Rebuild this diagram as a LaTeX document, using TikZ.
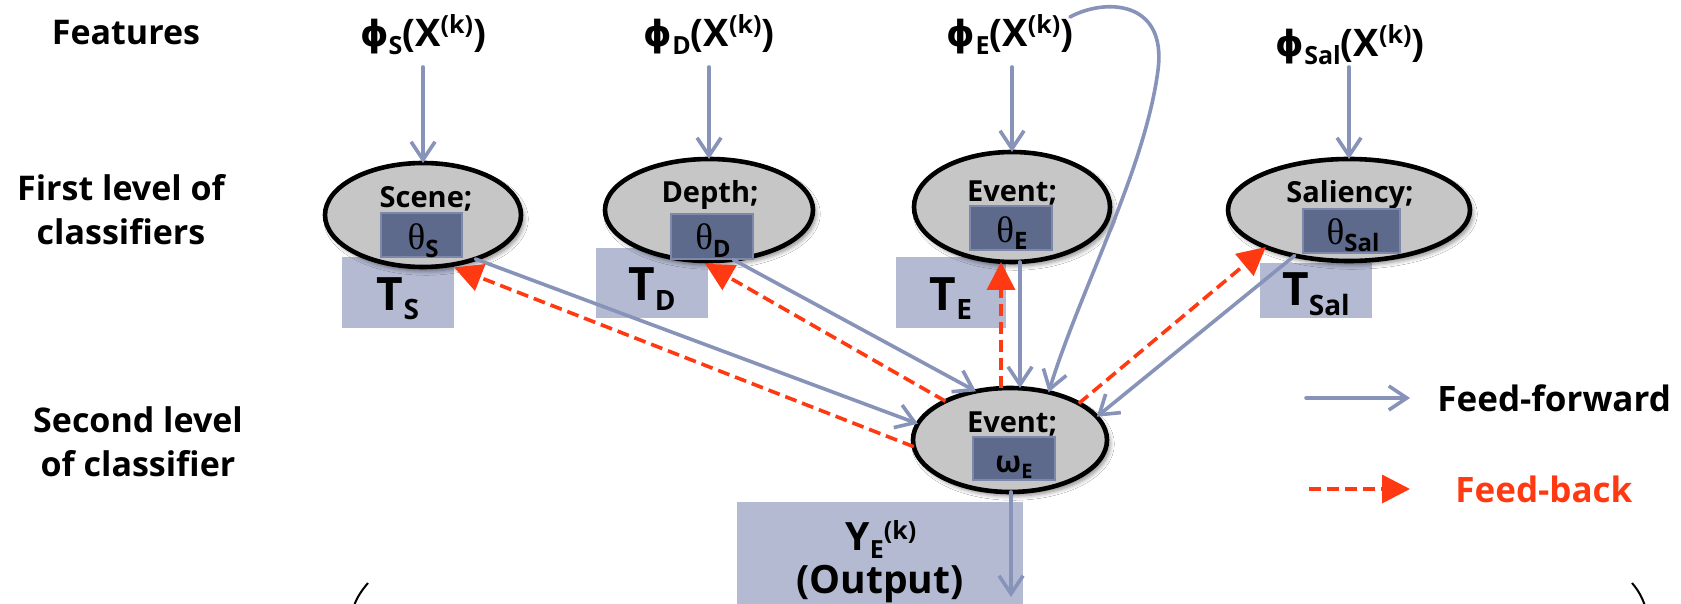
\documentclass[tikz,border=0pt]{standalone}
\usepackage{fontspec}
\setmainfont{Open Sans}
\newfontfamily\phifont{DejaVu Sans}
\newfontfamily\thfont{Liberation Serif}
\usetikzlibrary{arrows.meta,shapes.geometric,shadows.blur}
\definecolor{ffblue}{HTML}{8793B8}
\definecolor{fbred}{HTML}{FF3A12}
\definecolor{ellgray}{HTML}{C6C6C6}
\definecolor{tblue}{HTML}{B4BAD2}
\definecolor{thblue}{HTML}{5E6A8C}
\definecolor{thborder}{HTML}{7D88AA}
\newcommand\sbs[3]{\raisebox{#2}{\fontsize{#1}{#1}\selectfont #3}}
\newcommand\phisym{{\phifont\fontsize{18pt}{18pt}\selectfont ϕ}}
\begin{document}
\begin{tikzpicture}[x=0.5pt,y=-0.5pt,
  ell/.style={ellipse, draw=black, line width=2.3pt, fill=ellgray, inner sep=0pt, outer sep=0pt,
    blur shadow={shadow xshift=1.5pt, shadow yshift=-2pt, shadow opacity=45, shadow blur steps=6}},
  tbox/.style={rectangle, fill=tblue, inner sep=0pt, outer sep=0pt},
  thbox/.style={rectangle, fill=thblue, draw=thborder, line width=1pt, inner sep=0pt, outer sep=0pt},
  lbl/.style={font=\bfseries\fontsize{17pt}{22pt}\selectfont, align=center, inner sep=0pt},
  etxt/.style={font=\bfseries\fontsize{14.5pt}{14.5pt}\selectfont, inner sep=0pt, anchor=base},
  phitxt/.style={font=\bfseries\fontsize{19pt}{19pt}\selectfont, inner sep=0pt, anchor=base},
  thtxt/.style={font=\bfseries\fontsize{18.5pt}{18.5pt}\selectfont, inner sep=0pt, anchor=base},
  ttxt/.style={font=\bfseries\fontsize{23pt}{23pt}\selectfont, inner sep=0pt, anchor=base},
  otxt/.style={font=\bfseries\fontsize{19.5pt}{19.5pt}\selectfont, inner sep=0pt, anchor=base},
  legtxt/.style={font=\bfseries\fontsize{17.5pt}{17.5pt}\selectfont, inner sep=0pt, anchor=west},
  ff/.style={draw=ffblue, line width=1.8pt, line cap=round, -{Straight Barb[length=9pt,width=12pt]}},
  fb/.style={draw=fbred, line width=1.8pt, dash pattern=on 6pt off 3pt, -{Triangle[length=14pt,width=14pt]}}
]
\useasboundingbox (0,0) rectangle (1681,604);
\fill[white] (0,0) rectangle (1681,604);

% row labels
\node[lbl] (features) at (126,33) {Features};
\node[lbl] (first) at (121,210) {First level of\\classifiers};
\node[lbl] (second) at (138,442) {Second level\\of classifier};

% feature labels
\node[phitxt] (phiS) at (423,47) {\phisym\sbs{12.5pt}{-4pt}{S}(X\sbs{12.5pt}{6.5pt}{(k)})};
\node[phitxt] (phiD) at (709,47) {\phisym\sbs{12.5pt}{-4pt}{D}(X\sbs{12.5pt}{6.5pt}{(k)})};
\node[phitxt] (phiE) at (1010,47) {\phisym\sbs{12.5pt}{-4pt}{E}(X\sbs{12.5pt}{6.5pt}{(k)})};
\node[phitxt] (phiSal) at (1350,57) {\phisym\sbs{12.5pt}{-4pt}{Sal}(X\sbs{12.5pt}{6.5pt}{(k)})};

% T boxes and output box
\node[tbox, minimum width=56pt, minimum height=35.5pt] (TS) at (398,292.5) {};
\node[tbox, minimum width=56pt, minimum height=35pt] (TD) at (652,283) {};
\node[tbox, minimum width=55pt, minimum height=35.5pt] (TE) at (951,292.5) {};
\node[tbox, minimum width=56pt, minimum height=27.5pt] (TSal) at (1316,290.5) {};
\node[tbox, minimum width=143pt, minimum height=51pt] (out) at (880,553) {};

\node[ttxt] (TSt) at (398,310) {T\sbs{14pt}{-5pt}{S}};
\node[ttxt] (TDt) at (652,300.5) {T\sbs{14pt}{-5pt}{D}};
\node[ttxt] (TEt) at (951,310) {T\sbs{14pt}{-5pt}{E}};
\node[ttxt] (TSalt) at (1316,306) {T\sbs{14pt}{-5pt}{Sal}};
\node[otxt] (outY) at (881,550) {Y\sbs{12.5pt}{-4pt}{E}\sbs{12.5pt}{5.5pt}{(k)}};
\node[otxt] (outO) at (880,593) {(Output)};

% classifier ellipses
\node[ell, minimum width=98pt, minimum height=52pt] (scene) at (423,215) {};
\node[ell, minimum width=104pt, minimum height=51pt] (depth) at (709,210) {};
\node[ell, minimum width=98pt, minimum height=55pt] (event1) at (1012,207) {};
\node[ell, minimum width=121pt, minimum height=51pt] (sal) at (1349,210) {};
\node[ell, minimum width=97pt, minimum height=52pt] (event2) at (1010,440) {};

\node[etxt] (sceneT) at (426,208) {Scene;};
\node[etxt] (depthT) at (710,203) {Depth;};
\node[etxt] (event1T) at (1012,202) {Event;};
\node[etxt] (salT) at (1350,203) {Saliency;};
\node[etxt] (event2T) at (1012,432) {Event;};

% parameter boxes
\node[thbox, minimum width=40.5pt, minimum height=22pt] (thS) at (421.5,235) {};
\node[thbox, minimum width=41pt, minimum height=22.5pt] (thD) at (712,236.5) {};
\node[thbox, minimum width=41pt, minimum height=22pt] (thE) at (1011,228) {};
\node[thbox, minimum width=48.5pt, minimum height=22pt] (thSal) at (1351.5,231) {};
\node[thbox, minimum width=41pt, minimum height=21.5pt] (omE) at (1014,458.5) {};

\node[thtxt] (thSt) at (423,250) {{\thfont\mdseries θ}\sbs{12pt}{-3.5pt}{S}};
\node[thtxt] (thDt) at (713,250) {{\thfont\mdseries θ}\sbs{12pt}{-3.5pt}{D}};
\node[thtxt] (thEt) at (1012,243) {{\thfont\mdseries θ}\sbs{12pt}{-3.5pt}{E}};
\node[thtxt] (thSalt) at (1353,245) {{\thfont\mdseries θ}\sbs{12pt}{-3.5pt}{Sal}};
\node[thtxt] (omEt) at (1014,472) {\fontsize{15pt}{15pt}\selectfont ω\sbs{10pt}{-3pt}{E}};

% feature arrows
\coordinate (rowtop) at (0,67);
\draw[ff] (scene.north |- rowtop) -- (scene.north);
\draw[ff] (depth.north |- rowtop) -- (depth.north);
\draw[ff] (event1.north |- rowtop) -- (event1.north);
\draw[ff] (sal.north |- rowtop) -- (sal.north);

% feed-forward
\coordinate (curvestart) at (1070,17);
\draw[ff] (scene.-40) -- (event2.170);
\draw[ff] (depth.-64) -- (event2.125);
\draw[ff] ([xshift=4pt]event1.south) -- ([xshift=4pt]event1.south |- event2.north);
\draw[ff] (curvestart) .. controls (1105,-2) and (1167,0) .. (1158,70)
          .. controls (1145,170) and (1080,290) .. (event2.51);
\draw[ff] (sal.220) -- (event2.15);

% feed-back
\draw[fb, shorten >=3pt] (event2.184) -- (scene.-63);
\draw[fb, shorten >=3pt] (event2.149) -- (depth.-100);
\draw[fb] ([xshift=-4.5pt]event2.north) -- ([xshift=-4.5pt]event2.north |- event1.south);
\draw[fb] (event2.28) -- (sal.204);

% output
\coordinate (outend) at (1011,597);
\draw[ff] ([xshift=0.5pt]event2.south) -- (outend);

% legend
\coordinate (lf1) at (1306,398);
\coordinate (lf2) at (1410,398);
\coordinate (lb1) at (1309,489);
\coordinate (lb2) at (1410,489);
\draw[ff] (lf1) -- (lf2);
\draw[fb] (lb1) -- (lb2);
\node[legtxt] (lfT) at (1437,398) {Feed-forward};
\node[legtxt, text=fbred] (lbT) at (1455,489) {Feed-back};

% partial brackets at the bottom
\draw[line width=1pt] (368,583) .. controls (362,590) and (357,597) .. (354,606);
\draw[line width=1pt] (1632,583) .. controls (1638,590) and (1642,597) .. (1645,606);
\end{tikzpicture}
\end{document}
